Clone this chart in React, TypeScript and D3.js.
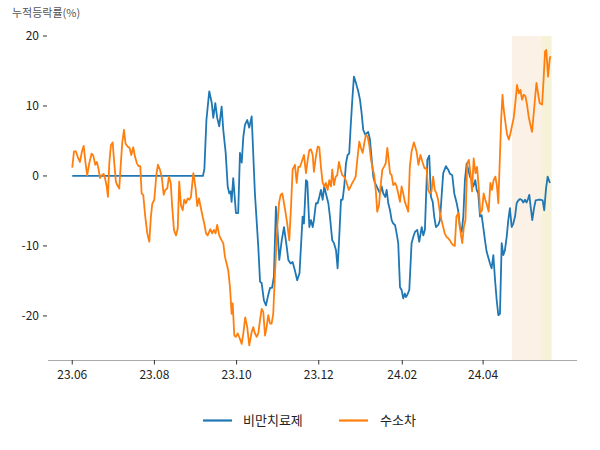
import React from "react";
import * as d3 from "d3";

// time origin of the day offsets below: 2023-06-01 (UTC)
const START_UTC = Date.UTC(2023, 5, 1);
const DAY_MS = 86400000;

const seriesNames = ["비만치료제", "수소차"];
const seriesColors = ["#1f77b4", "#ff7f0e"];

const xTickDates = ["2023-06-01", "2023-08-01", "2023-10-01", "2023-12-01", "2024-02-01", "2024-04-01"];
const xTickLabels = ["23.06", "23.08", "23.10", "23.12", "24.02", "24.04"];
const yTicks = [-20, -10, 0, 10, 20];

// highlighted periods (days since start)
const shadeSpans = [
  [326.4, 348.7],
  [348.7, 355.9],
];
const shadeColors = ["#fcf1e7", "#f6f2d7"];

const xDomainDays = [-18, 374.7];
const yDomain = [-26.3, 20];

// 비만치료제: days since start, cumulative %
const blueDay = [
  0, 97, 98.1, 99.6, 101.7, 103.5, 104.7, 106.2, 107.6, 109.1,
  110.9, 112.1, 113.9, 115.4, 116.6, 117.6, 118.3, 119.5, 120.6, 121.5,
  123.2, 124.5, 125.8, 127.0, 128.2, 129.9, 131.4, 133.2, 135.6, 138.1,
  139.4, 140.6, 142.3, 143.8, 145.5, 146.8, 148.3, 149.7, 151.2, 152.5,
  153.7, 155.5, 157.2, 159.2, 160.4, 162.1, 163.6, 165.3, 167.0, 168.7,
  171.0, 172.0, 173.5, 174.5, 176.0, 177.2, 178.5, 179.4, 180.9, 182.2,
  183.4, 184.6, 185.9, 187.1, 188.3, 190.1, 191.3, 193.0, 194.3, 195.8,
  197.0, 198.2, 199.5, 200.7, 201.9, 203.2, 204.4, 205.6, 206.7, 207.9,
  209.1, 210.6, 212.3, 213.6, 214.8, 216.0, 217.5, 218.6, 219.7, 221.0,
  222.3, 223.5, 224.7, 226.0, 227.2, 228.4, 229.7, 230.9, 232.4, 233.4,
  234.6, 235.9, 237.1, 238.3, 239.6, 240.8, 242.0, 243.3, 244.5, 245.7,
  246.9, 247.7, 248.7, 250.2, 251.9, 253.2, 254.4, 256.1, 257.6, 259.4,
  260.6, 261.8, 263.6, 265.0, 266.3, 267.6, 268.7, 270.0, 271.7, 273.0,
  274.5, 275.4, 277.4, 279.1, 280.4, 282.1, 283.6, 285.4, 286.6, 287.8,
  289.1, 290.3, 291.5, 292.8, 294.0, 295.2, 296.5, 297.7, 299.2, 300.2,
  301.4, 302.7, 303.9, 305.1, 306.4, 307.6, 308.8, 310.1, 311.3, 312.6,
  313.8, 315.1, 316.3, 317.5, 318.8, 320.0, 321.2, 322.5, 323.7, 324.9,
  326.2, 327.4, 328.7, 329.9, 331.1, 332.4, 333.6, 334.8, 336.1, 337.3,
  338.5, 339.3, 340.3, 341.5, 342.8, 344.0, 346.0, 347.7, 349.2, 350.4,
  351.7, 352.9, 354.6,
];
const blueVal = [
  0, 0, 1, 8, 12.1, 10.5, 8.3, 10.4, 8.3, 7.1,
  9.9, 6.6, 3.3, -1.5, -2.5, -2.2, -3.7, -0.3, -3, -5.3,
  -5.3, 3.3, 1.9, 5.6, 7.3, 8, 6.9, 8.5, -2.5, -10.1,
  -15.1, -15.3, -17.8, -18.5, -17, -16, -16, -14.4, -4.4, -8.2,
  -12, -9.2, -7.3, -10.1, -12, -12.5, -12.3, -13.5, -14.9, -13.9,
  -5.8, -6.8, -0.6, -0.8, -7.3, -6.3, -7.3, -6.3, -3.9, -3.9,
  -3, -2, -3.4, -1.5, -2.5, -3.9, -5.8, -9.2, -9.6, -10.6,
  -13.2, -8.7, -3.4, -3.4, -1.5, 1.8, 3, 3.2, 7.1, 10.9,
  14.2, 13.3, 12.1, 10.9, 9, 6.6, 5.9, 6.1, 6.3, 5.2,
  2.3, -0.1, -1, -1.5, -2, -2.5, -1.5, -2.5, -3, -2,
  -3.9, -4.9, -6.3, -6.8, -7, -8.2, -9.6, -15.9, -16.3, -17.5,
  -16.8, -17.3, -17, -16.3, -9.6, -8.7, -8, -7.7, -9.4, -7.3,
  -8.5, -7.7, 2.3, 2.9, -3, -3.7, -5.8, -7.3, -7, -6.3,
  -2, 0.4, 1.4, 0.9, 0.3, 0.1, -2.5, -3.9, -5.1, -7.3,
  -8, -5.8, -0.6, 1.8, 0.9, -0.1, -0.6, -1.5, -0.6, -2,
  -2.5, -5.8, -5.6, -7.3, -9.2, -10.8, -11.6, -12.5, -13.2, -11.3,
  -14.7, -17.8, -19.9, -19.7, -9.6, -11.3, -10.6, -8.7, -6.3, -4.6,
  -7.3, -6.8, -5.8, -3.9, -3.5, -3.3, -3.4, -3.8, -3.4, -3.8,
  -3.2, -2.7, -4.4, -6.3, -4.6, -3.5, -3.4, -3.4, -3.5, -4.9,
  -1.8, -0.1, -1,
];

// 수소차: [days since start, cumulative %]
const orangePoints: [number, number][] = [
  [0, 1.2], [1.3, 3.5], [2.7, 3.5], [4.5, 2.5], [5.7, 2], [7.2, 3.5], [8.5, 4.3], [9.9, 1.8], [11.1, 0.1], [12.6, 1.8],
  [14.4, 3.2], [15.6, 2.9], [17.1, 1.6], [18.3, 2], [19.6, 0.9], [20.6, -0.3], [22.0, 0.1], [23.3, 0.3], [24.3, -0.3], [25.5, -1.4],
  [26.5, -3], [27.5, 1.8], [28.7, 4.4], [30.0, 4.8], [31.2, 1.8], [32.4, -0.8], [33.4, -1.3], [34.9, -1.8], [35.9, 1.3], [37.1, 4.7],
  [38.4, 6.6], [39.6, 4.6], [41.1, 4.2], [42.6, 4], [43.8, 3], [45.3, 4.1], [46.5, 2.8], [48.0, 1.8], [49.3, 1.4], [50.5, 1.4],
  [51.5, -2.5], [52.7, -2.7], [54.2, -5.8], [55.7, -8.2], [57.2, -9.4], [58.4, -5.8], [59.4, -4], [60.9, -3.4], [62.4, 0.1], [63.6, 1.6],
  [65.1, 0.9], [66.4, -0.1], [67.9, -2.7], [69.0, -2], [70.5, -1.8], [71.8, -0.1], [73.1, -1], [74.2, -4.4], [75.5, -7.7], [77.0, -8.5],
  [78.3, -7.5], [79.4, -0.8], [80.7, -4.2], [82.0, -4.9], [83.1, -3.4], [84.4, -3.9], [85.7, -3.2], [86.9, -3.4], [88.1, -3], [89.9, 0.4],
  [91.6, -1.8], [92.8, -4.3], [94.1, -3.2], [95.3, -4.4], [96.8, -5.8], [98.0, -6.8], [99.3, -8.2], [100.5, -8.5], [102.5, -7.6], [103.9, -8.2],
  [105.2, -7.7], [106.4, -8.2], [107.6, -7], [109.1, -8.5], [110.9, -9.2], [112.1, -9.6], [113.4, -11.6], [114.6, -12.5], [115.8, -13.5], [117.1, -15.9],
  [118.3, -19.7], [119.1, -18.2], [120.3, -22.8], [121.5, -23], [122.8, -22.5], [124.5, -23.3], [125.8, -24], [127.0, -22.5], [128.4, -20.2], [129.9, -21.6],
  [131.4, -24.2], [133.2, -22.3], [134.4, -21.6], [135.6, -22.5], [136.9, -23], [138.1, -22.5], [139.4, -20.6], [140.6, -19], [141.8, -19.4], [143.1, -22.8],
  [144.3, -21.6], [145.5, -19.9], [146.8, -21.1], [148.0, -21.1], [149.2, -19.7], [150.5, -13.9], [152.2, -7.3], [153.5, -3.9], [154.7, -2.7], [155.9, -2.5],
  [157.2, -3.9], [158.4, -5.3], [159.6, -6.8], [161.1, -9.2], [162.4, -4.4], [163.6, 0.9], [165.3, 1.6], [166.6, -1], [167.8, 1.3], [169.0, 1.3],
  [170.3, 2], [172.0, 3], [173.5, 0.4], [174.8, 2.3], [176.0, 3.7], [177.2, 3.8], [178.5, 3], [179.4, 0.6], [180.9, 2.8], [182.2, 4.2],
  [183.4, 4.1], [184.6, 1.3], [185.9, -1], [187.1, -1.5], [188.3, -1], [189.6, -2], [190.8, -0.6], [192.1, -1.5], [193.0, 0.9], [194.3, -1.3],
  [195.6, -0.1], [196.7, 0.1], [198.0, 2], [199.3, 0.9], [200.5, 0.1], [201.8, -0.1], [203.0, -0.6], [204.2, -1.3], [205.4, -2], [206.7, -1.5],
  [207.9, -1], [209.1, -0.6], [210.4, -0.1], [211.6, 2.3], [213.1, 4.9], [214.3, 4], [215.6, 3.3], [216.8, 4.7], [218.0, 5.9], [219.3, 5.6],
  [220.5, 4.4], [221.8, 2.3], [223.0, 1.1], [224.2, 0.1], [225.5, -2.5], [226.4, -5.1], [227.7, -4.2], [229.0, -1.3], [230.2, 0.9], [231.4, 1.3],
  [232.7, 1.8], [233.9, 4], [234.9, 2.3], [235.9, 0.4], [237.1, 0.1], [238.3, -1.3], [239.6, -1], [240.8, -1.5], [242.0, -2.5], [243.3, -3.7],
  [244.5, -1.5], [245.7, -2.5], [246.9, -3.7], [248.2, -4.4], [249.4, -5.1], [250.6, 1.3], [251.9, 3.5], [253.6, 4.8], [255.6, 3.5], [257.0, 1.6],
  [258.5, 3], [260.0, 2], [261.5, 1.1], [263.0, 1.1], [264.2, -2], [265.4, -2.5], [266.7, -2.2], [267.9, -0.1], [269.1, -2], [270.4, -2.5],
  [271.6, -3.4], [272.8, -5.1], [274.1, -6.3], [275.4, -7.3], [276.5, -8.2], [277.8, -8.7], [279.1, -8.9], [280.3, -9.2], [281.5, -9.6], [282.8, -9.9],
  [284.0, -10], [285.2, -5.8], [286.5, -5.3], [287.7, -7.3], [289.5, -9.6], [290.7, -7.3], [291.9, -6.3], [293.2, 1.8], [294.4, 2.3], [295.6, 0.4],
  [296.8, -2.2], [298.0, 2.5], [299.3, 0.4], [300.5, 1.3], [301.7, -1.5], [302.9, -5.3], [304.2, -4.9], [305.4, -2.5], [306.6, -3.4], [307.9, -4.2],
  [309.1, -5.1], [310.4, -1], [311.6, -2], [312.8, -0.6], [314.1, -0.1], [315.3, -1.5], [316.3, -3.9], [317.3, 1.8], [318.4, 8], [319.4, 11.6],
  [320.3, 9.5], [321.6, 7.6], [322.8, 5.9], [324.1, 5.2], [325.3, 6.1], [326.6, 7.3], [327.7, 8.3], [329.0, 10.6], [330.2, 13], [331.5, 11.8],
  [332.7, 12.3], [333.9, 10.9], [335.1, 11.6], [336.4, 11.4], [337.6, 10.2], [338.8, 8.5], [340.1, 7.3], [341.3, 6.3], [342.6, 9], [343.8, 11.6],
  [344.6, 13.3], [345.8, 11.8], [347.0, 10.4], [348.8, 10.2], [349.9, 13.8], [351.0, 17.8], [351.9, 18], [353.2, 14.2], [354.4, 16.6], [354.9, 17.1],
];

const FONT = "'Noto Sans CJK KR', 'Noto Sans', sans-serif";

const toDate = (d: number) => new Date(START_UTC + d * DAY_MS);

export default function App() {
  const W = 600;
  const H = 450;
  const left = 48;
  const right = 577;
  const top = 36;
  const bottom = 360;

  const x = d3.scaleUtc().domain(xDomainDays.map(toDate)).range([left, right]);
  const y = d3.scaleLinear().domain(yDomain).range([bottom, top]);

  const line = d3
    .line<[number, number]>()
    .x((p) => x(toDate(p[0])))
    .y((p) => y(p[1]));

  const bluePoints: [number, number][] = blueDay.map((d, i) => [d, blueVal[i]]);
  const series = [bluePoints, orangePoints];

  const legendItems = [
    { x0: 203, tx: 243 },
    { x0: 339, tx: 380 },
  ];

  return (
    <svg
      width={W}
      height={H}
      viewBox={`0 0 ${W} ${H}`}
      style={{ position: "absolute", left: 0, top: 0, background: "#fff" }}
      fontFamily={FONT}
    >
      <rect x={0} y={0} width={W} height={H} fill="#fff" />
      {shadeSpans.map((s, i) => (
        <rect
          key={i}
          x={x(toDate(s[0]))}
          y={top}
          width={x(toDate(s[1])) - x(toDate(s[0]))}
          height={bottom - top}
          fill={shadeColors[i]}
        />
      ))}

      {/* title */}
      <text x={12} y={17} fontSize={11} fill="#555">
        누적등락률(%)
      </text>

      {/* y ticks */}
      {yTicks.map((t) => (
        <g key={t}>
          <line x1={left - 5} x2={left - 1} y1={y(t)} y2={y(t)} stroke="#333" strokeWidth={1} />
          <text x={left - 9} y={y(t)} dy="0.35em" textAnchor="end" fontSize={12} fill="#222">
            {t}
          </text>
        </g>
      ))}

      {/* x axis */}
      <line x1={left} x2={right} y1={bottom + 0.5} y2={bottom + 0.5} stroke="#aaa" strokeWidth={1.2} />
      {xTickDates.map((d, i) => {
        const px = x(new Date(d + "T00:00:00Z"));
        return (
          <g key={d}>
            <line x1={px} x2={px} y1={bottom} y2={bottom + 4.5} stroke="#333" strokeWidth={1} />
            <text x={px} y={bottom + 19} textAnchor="middle" fontSize={12} fill="#222">
              {xTickLabels[i]}
            </text>
          </g>
        );
      })}

      {/* series */}
      {series.map((pts, i) => (
        <path
          key={i}
          d={line(pts) || ""}
          fill="none"
          stroke={seriesColors[i]}
          strokeWidth={1.8}
          strokeLinejoin="round"
        />
      ))}

      {/* legend */}
      {legendItems.map((it, i) => (
        <g key={i}>
          <line x1={it.x0} x2={it.x0 + 29} y1={420.5} y2={420.5} stroke={seriesColors[i]} strokeWidth={2.2} />
          <text x={it.tx} y={425} fontSize={13} fill="#222">
            {seriesNames[i]}
          </text>
        </g>
      ))}
    </svg>
  );
}
